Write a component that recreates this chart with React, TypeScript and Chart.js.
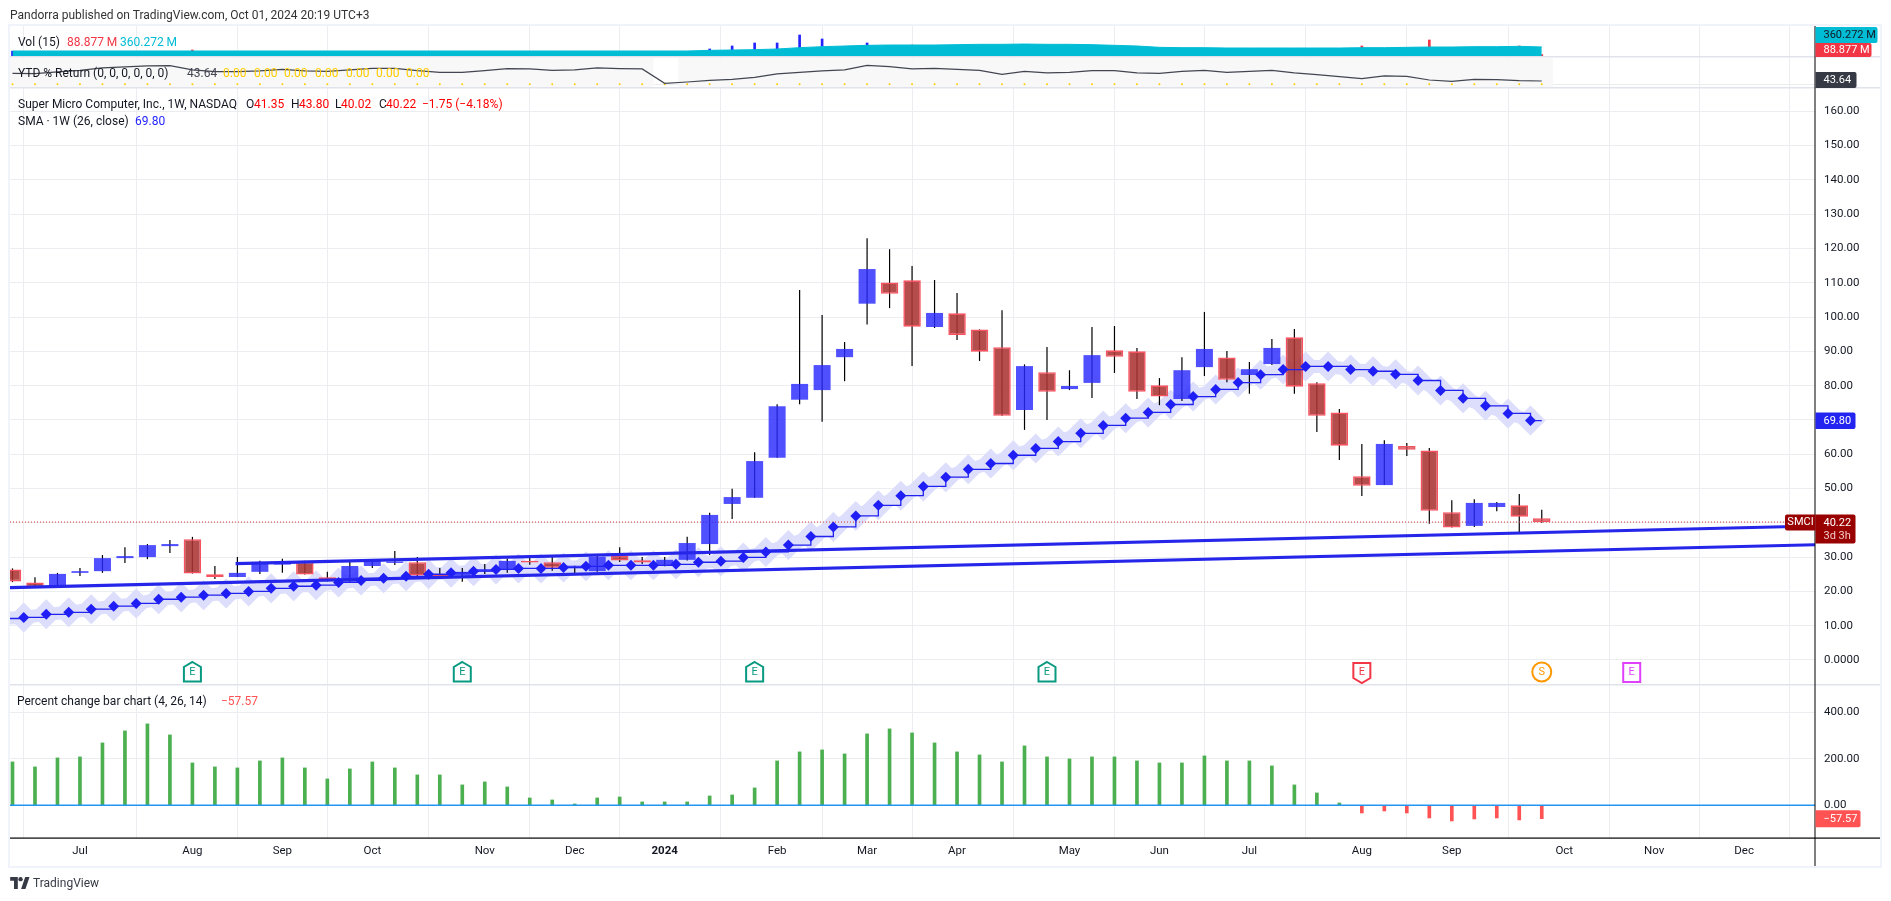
import React, { useEffect, useRef } from "react";
import { Chart, registerables } from "chart.js";

Chart.register(...registerables);

// weekly bars, index 0 = week of 12 Jun 2023
const opens = [26.4,22.6,21.6,25.4,25.9,29.7,30.0,33.2,35.2,25.0,24.2,25.7,27.8,28.6,24.1,22.8,27.4,28.3,28.5,24.8,24.6,25.8,26.5,28.9,28.5,26.7,25.9,30.4,29.1,27.5,29.2,33.8,45.5,47.3,59.0,75.9,78.7,88.3,103.9,110.1,110.7,97.1,101.1,96.4,91.2,72.9,83.9,79.0,80.8,90.3,90.0,80.1,76.1,85.4,88.2,83.1,86.3,94.1,80.7,72.2,53.6,51.0,62.4,61.1,43.1,39.1,44.6,45.1,41.35];
const highs = [26.7,24.1,25.4,26.8,30.6,32.9,33.8,35.0,35.9,27.4,30.0,28.9,29.5,28.9,25.7,28.6,29.4,31.8,30.0,26.8,26.8,28.0,29.6,30.6,30.6,27.5,30.6,32.9,30.0,30.0,35.9,42.9,49.9,60.6,74.6,107.9,100.6,92.7,123.0,119.8,114.9,110.8,107.0,96.4,102.0,86.2,91.3,84.5,97.1,97.4,91.0,82.2,88.3,101.5,90.1,86.9,93.6,96.5,81.0,73.2,63.0,64.1,63.3,61.8,46.6,46.9,46.1,48.4,43.8];
const lows = [22.7,21.0,21.2,24.5,25.4,28.3,29.4,31.2,25.2,23.6,24.2,25.1,25.4,24.9,22.9,22.8,26.8,27.7,24.3,23.6,22.8,25.1,25.4,27.8,26.0,25.2,25.7,28.6,28.0,27.3,29.0,30.6,41.1,47.3,59.0,74.6,69.5,81.3,97.8,102.6,85.7,96.8,93.3,87.2,71.2,67.1,70.0,78.7,76.4,83.7,76.1,74.3,75.5,82.8,81.0,77.6,86.0,77.6,66.5,58.3,47.8,51.0,59.5,39.7,38.6,38.8,43.4,37.3,40.02];
const closes = [22.9,21.2,25.1,25.9,29.7,30.3,33.5,33.8,25.2,24.2,25.4,28.6,28.6,24.9,23.2,27.4,29.2,28.7,24.6,24.2,25.7,26.5,28.9,28.4,26.9,27.5,30.1,29.0,28.4,29.2,34.1,42.3,47.5,58.0,74.0,80.5,86.0,90.7,114.0,106.8,97.2,101.2,94.8,89.9,71.2,85.7,78.2,79.9,88.9,88.4,78.2,76.8,84.5,90.7,81.7,84.8,91.0,79.7,71.2,62.5,50.8,63.0,61.3,43.5,38.6,45.8,45.8,41.8,40.22];
const smaValues = [12.1,12.4,13.3,13.9,14.8,15.7,16.5,17.7,18.3,18.9,19.4,20.0,20.9,21.5,21.8,22.6,23.2,23.8,24.4,25.0,25.4,25.9,26.4,26.7,26.7,27.0,27.3,27.6,27.6,27.6,27.9,28.5,28.8,29.9,31.5,33.5,36.0,38.8,42.0,45.1,47.9,50.6,53.3,55.6,57.3,59.7,61.7,63.7,66.1,68.4,70.5,72.2,74.5,76.8,78.9,80.9,83.2,84.7,85.6,85.6,84.7,84.2,83.3,81.5,78.6,76.3,74.1,71.9,69.8];
const volumes = [210,180,190,170,195,160,175,150,252,190,150,140,170,155,165,150,140,135,180,145,175,160,165,150,140,130,155,160,145,150,200,288,396,504,504,792,648,380,504,420,430,360,300,280,310,290,240,210,300,220,180,150,260,240,200,170,190,220,240,200,396,310,190,612,280,230,160,396,88.877];
const volumeMa = [216,216,216,216,216,216,216,216,216,216,216,216,216,216,216,216,216,216,216,216,216,216,216,216,216,216,216,216,216,216,216,240,252,264,288,336,372,396,420,432,432,432,444,456,456,468,456,456,444,420,396,348,336,336,324,324,324,324,324,324,336,336,348,360,360,372,372,384,360.272];
const ytdValues = [144,139.6,161.5,183.3,213.8,227,240,244.4,187.7,165.8,165.8,174.6,196.4,174.6,170.2,187.7,209.5,209.5,178.9,157.1,157.1,178.9,205.1,200.7,183.3,187.7,213.8,205.1,200.7,13.1,30.5,52.4,65.5,91.6,135.3,157.1,174.6,187.7,248.7,231.3,200.7,209.5,196.4,183.3,130.9,170.2,148.4,157.1,178.9,178.9,148.4,144,170.2,183.3,157.1,170.2,183.3,148.4,126.6,100.4,74.2,109.1,104.7,56.7,39.3,65.5,61.1,48,43.64];
const pctValues = [186.4,164.9,203.6,207.9,268,319.7,349.8,302.5,182,164.9,160.6,190.7,203.6,160.6,113.3,156.3,186.4,160.6,130.5,130.5,87.5,100.4,78.9,31.5,22.9,5.7,31.5,35.8,14.3,14.3,14.3,40.1,44.4,74.6,190.7,229.4,238,220.8,306.8,328.3,311,268,229.4,216.5,186.4,255.2,207.9,199.3,207.9,207.9,190.7,182,182,212.2,190.7,190.7,169.2,87.5,53,10,-33,-24.4,-33,-54.5,-67.4,-58.8,-54.5,-63,-57.57];

const monthIndex = [3,8,12,16,21,25,29,34,38,42,47,51,55,60,64,69,73,77];
const monthLabels = ["Jul","Aug","Sep","Oct","Nov","Dec","2024","Feb","Mar","Apr","May","Jun","Jul","Aug","Sep","Oct","Nov","Dec"];
const mainTicks = [0,10,20,30,40,50,60,70,80,90,100,110,120,130,140,150,160];
const pctTicks = [0,200,400];

const trendUpper = [[9.92,28.08],[80.15,39.07]];
const trendLower = [[-0.111,21.08],[80.15,33.6]];
const lastPrice = 40.22;
const smaLast = 69.8;

const markerIndex = [8,20,33,46,60,68,72];
const markerKinds = ["up","up","up","up","down","split","future"];
const ytdBands = [[-0.2,28.5],[29.6,68.5]];

const X_MIN = -0.111;
const X_MAX = 80.15;
const FONT = "Roboto, sans-serif";
const INK = "#131722";
const GRID = "#ecedf1";
const HALO = "#dcdefb";

const pts = (a: number[], shift = 0) => a.map((y, i) => ({ x: i + shift, y }));
const isUp = (i: number) => closes[i] >= opens[i];

const wickData = highs.map((h, i) => ({ x: i, y: [lows[i], h] }));
const upData = opens.map((o, i) => (isUp(i) ? { x: i, y: [o, closes[i]] } : null)).filter(Boolean);
const downData = opens.map((o, i) => (!isUp(i) ? { x: i, y: [o, closes[i]] } : null)).filter(Boolean);
const volUp = volumes.map((v, i) => (i === 0 || closes[i] >= closes[i - 1] ? { x: i, y: v } : null)).filter(Boolean);
const volDown = volumes.map((v, i) => (i > 0 && closes[i] < closes[i - 1] ? { x: i, y: v } : null)).filter(Boolean);
const pctUp = pctValues.map((v, i) => (v >= 0 ? { x: i, y: v } : null)).filter(Boolean);
const pctDown = pctValues.map((v, i) => (v < 0 ? { x: i, y: v } : null)).filter(Boolean);

const line = (extra: any) => ({ type: "line", pointRadius: 0, fill: false, tension: 0, ...extra });
const tagFont = `11px ${FONT}`;

function tag(ctx: any, x0: number, x1: number, y0: number, y1: number, bg: string) {
  ctx.fillStyle = bg;
  ctx.beginPath();
  ctx.roundRect(x0, y0, x1 - x0, y1 - y0, [0, 2, 2, 0]);
  ctx.fill();
}
function txt(ctx: any, s: string, x: number, y: number, color: string, font = tagFont, align = "left") {
  ctx.font = font;
  ctx.fillStyle = color;
  ctx.textAlign = align;
  ctx.textBaseline = "middle";
  ctx.fillText(s, x, y);
}

const panePlugin = {
  id: "panes",
  beforeDatasetsDraw(chart: any) {
    const { ctx, scales } = chart;
    ctx.save();
    ctx.fillStyle = "#f8f8f8";
    const t = scales.yYtd;
    ytdBands.forEach(([a, b]) => {
      const x0 = Math.max(scales.x.getPixelForValue(a), chart.chartArea.left);
      ctx.fillRect(x0, t.top + 1, scales.x.getPixelForValue(b) - x0, t.height - 2);
    });
    ctx.restore();
  },
  afterDatasetsDraw(chart: any) {
    const { ctx, scales } = chart;
    const y = scales.yMain.bottom - 13;
    ctx.save();
    markerIndex.forEach((idx, k) => {
      const cx = scales.x.getPixelForValue(idx);
      const kind = markerKinds[k];
      const color = kind === "up" ? "#089981" : kind === "down" ? "#f23645" : kind === "split" ? "#ff9800" : "#e040fb";
      ctx.lineWidth = 2;
      ctx.strokeStyle = color;
      ctx.fillStyle = "#ffffff";
      ctx.beginPath();
      if (kind === "split") {
        ctx.arc(cx, y, 9.5, 0, Math.PI * 2);
      } else if (kind === "up") {
        ctx.moveTo(cx, y - 10);
        ctx.lineTo(cx + 8.5, y - 5);
        ctx.lineTo(cx + 8.5, y + 9.5);
        ctx.lineTo(cx - 8.5, y + 9.5);
        ctx.lineTo(cx - 8.5, y - 5);
        ctx.closePath();
      } else if (kind === "down") {
        ctx.moveTo(cx - 8.5, y - 9);
        ctx.lineTo(cx + 8.5, y - 9);
        ctx.lineTo(cx + 8.5, y + 6);
        ctx.lineTo(cx, y + 11);
        ctx.lineTo(cx - 8.5, y + 6);
        ctx.closePath();
      } else {
        ctx.rect(cx - 8.5, y - 9, 17, 19);
      }
      ctx.fill();
      ctx.stroke();
      txt(ctx, kind === "split" ? "S" : "E", cx, y + 0.5, color, `11px ${FONT}`, "center");
    });
    ctx.restore();
  },
  afterDraw(chart: any) {
    const { ctx, scales, chartArea } = chart;
    const right = chart.width - 11;
    const bottom = scales.x.bottom;
    ctx.save();
    // frame + separators
    ctx.fillStyle = "#f0f3fa";
    ctx.fillRect(chartArea.left - 2, chartArea.top - 1, 2, bottom - chartArea.top + 3);
    ctx.fillRect(chartArea.left - 2, chartArea.top - 2, right - chartArea.left + 4, 2);
    ctx.fillRect(chartArea.left - 2, bottom, right - chartArea.left + 4, 2);
    ctx.fillRect(right, chartArea.top - 2, 2, bottom - chartArea.top + 4);
    ctx.fillStyle = "#e0e3eb";
    [scales.yVol.bottom, scales.yYtd.bottom, scales.yMain.bottom].forEach((v: number) => ctx.fillRect(chartArea.left, v - 1, right - chartArea.left, 1.5));
    ctx.fillStyle = "#000000";
    ctx.fillRect(chartArea.right - 0.5, chartArea.top, 1, bottom - chartArea.top);
    ctx.fillRect(chartArea.left, chartArea.bottom - 0.5, right - chartArea.left, 1.2);

    const L = chartArea.right + 0.5;
    const ink = "#ffffff";
    // volume tags
    tag(ctx, L, L + 62, scales.yVol.top + 1, scales.yVol.top + 17, "#00bcd4");
    txt(ctx, "360.272 M", L + 8, scales.yVol.top + 9.5, INK);
    tag(ctx, L, L + 56, scales.yVol.top + 17, scales.yVol.bottom, "#f23645");
    txt(ctx, "88.877 M", L + 8, scales.yVol.top + 24.5, ink);
    // ytd tag
    tag(ctx, L, L + 41, scales.yYtd.bottom - 16, scales.yYtd.bottom, "#363a45");
    txt(ctx, "43.64", L + 8, scales.yYtd.bottom - 7.5, ink);
    // SMA tag
    const sy = scales.yMain.getPixelForValue(smaLast);
    tag(ctx, L, L + 40, sy - 8, sy + 8.5, "#2424f0");
    txt(ctx, smaLast.toFixed(2), L + 8, sy + 0.5, ink);
    // price tag
    const py = scales.yMain.getPixelForValue(lastPrice);
    ctx.fillStyle = "#990000";
    ctx.beginPath();
    ctx.roundRect(L - 30.5, py - 7.5, 30.5, 16, [2, 0, 0, 2]);
    ctx.fill();
    txt(ctx, "SMCI", L - 15, py + 0.5, ink, tagFont, "center");
    tag(ctx, L, L + 40, py - 7.5, py + 21.5, "#990000");
    txt(ctx, lastPrice.toFixed(2), L + 8, py + 1, ink);
    txt(ctx, "3d 3h", L + 8, py + 14, "#f3c9c9");
    // pct tag
    const cy = scales.yPct.getPixelForValue(pctValues[pctValues.length - 1]);
    tag(ctx, L, L + 45, cy - 8.5, cy + 8.5, "#ff5252");
    txt(ctx, "\u221257.57", L + 8, cy + 0.5, ink);
    ctx.restore();
  },
};

const rightScale = (weight: number, min: number, max: number, values: number[], fmt?: (v: number) => string, showGrid = true) => ({
  type: "linear",
  position: "right",
  stack: "panes",
  stackWeight: weight,
  min,
  max,
  afterFit: (s: any) => { s.width = 65; },
  afterBuildTicks: (s: any) => { s.ticks = values.map((value) => ({ value })); },
  grid: { color: GRID, lineWidth: 1, drawTicks: false, display: showGrid },
  border: { display: false },
  ticks: { display: !!fmt, padding: 9, color: INK, font: { family: "Roboto", size: 11.5 }, autoSkip: false, callback: (v: number) => (fmt ? fmt(v) : "") },
});

function Txt({ x, y, c, children, w }: any) {
  return (
    <span style={{ position: "absolute", left: x, top: y, transform: "translateY(-50%)", color: c || INK, whiteSpace: "pre", fontWeight: w || 400, lineHeight: 1 }}>{children}</span>
  );
}

export default function App() {
  const ref = useRef<HTMLCanvasElement | null>(null);
  useEffect(() => {
    const chart = new Chart(ref.current as any, {
      type: "bar",
      data: {
        datasets: [
          // volume pane
          { type: "bar", yAxisID: "yVol", data: volUp, backgroundColor: "#2424ff", maxBarThickness: 2, order: 30 },
          { type: "bar", yAxisID: "yVol", data: volDown, backgroundColor: "#f23645", maxBarThickness: 2, order: 30 },
          line({ yAxisID: "yVol", data: pts(volumeMa), borderColor: "#00bcd4", borderWidth: 1, backgroundColor: "#00bcd4", fill: { value: 36 }, order: 20 }),
          // ytd pane
          line({ yAxisID: "yYtd", data: pts(ytdValues), borderColor: "#434651", borderWidth: 1.2, order: 20 }),
          line({ yAxisID: "yYtd", data: pts(ytdValues.map(() => 0)), showLine: false, pointRadius: 1, pointBackgroundColor: "#ffcc00", pointBorderWidth: 0, order: 21 }),
          // main pane: halo behind the candles
          line({ yAxisID: "yMain", data: pts(smaValues, -0.5), borderColor: HALO, borderWidth: 13, pointRadius: 15, pointStyle: "rectRot", pointBackgroundColor: HALO, pointBorderColor: HALO, pointBorderWidth: 0, order: 60 }),
          { type: "bar", yAxisID: "yMain", data: wickData, backgroundColor: "#000000", maxBarThickness: 1.2, inflateAmount: 0, order: 50 },
          { type: "bar", yAxisID: "yMain", data: upData, backgroundColor: "rgba(41,41,255,0.82)", maxBarThickness: 17, inflateAmount: 0, order: 40 },
          { type: "bar", yAxisID: "yMain", data: downData, backgroundColor: "rgba(172,52,52,0.88)", borderColor: "#f7525f", borderWidth: 1.6, borderSkipped: false, maxBarThickness: 17.5, inflateAmount: 0, order: 40 },
          line({ yAxisID: "yMain", data: [{ x: X_MIN, y: lastPrice }, { x: X_MAX, y: lastPrice }], borderColor: "#d9342b", borderWidth: 1, borderDash: [1, 2], order: 45 }),
          line({ yAxisID: "yMain", data: trendUpper.map(([x, y]) => ({ x, y })), borderColor: "#2626ea", borderWidth: 3.2, order: 10 }),
          line({ yAxisID: "yMain", data: trendLower.map(([x, y]) => ({ x, y })), borderColor: "#2626ea", borderWidth: 3.2, order: 10 }),
          line({ yAxisID: "yMain", data: [...pts(smaValues, -0.5), { x: 68, y: smaLast }], borderColor: "#2121f0", borderWidth: 1.3, stepped: true, order: 5 }),
          line({ yAxisID: "yMain", data: pts(smaValues, -0.5), showLine: false, pointRadius: 5.5, pointStyle: "rectRot", pointBackgroundColor: "#1f1ff5", pointBorderWidth: 0, order: 4 }),
          // percent pane
          { type: "bar", yAxisID: "yPct", data: pctUp, backgroundColor: "#4caf50", maxBarThickness: 3, order: 30 },
          { type: "bar", yAxisID: "yPct", data: pctDown, backgroundColor: "#ff5252", maxBarThickness: 3, order: 30 },
          line({ yAxisID: "yPct", data: [{ x: X_MIN, y: 0 }, { x: X_MAX, y: 0 }], borderColor: "#2196f3", borderWidth: 1.5, order: 20 }),
        ] as any,
      },
      options: {
        animation: false,
        responsive: false,
        events: [],
        layout: { autoPadding: false, padding: { left: 10, top: 26, right: 11, bottom: 35 } },
        datasets: { bar: { grouped: false, barPercentage: 1, categoryPercentage: 1 } },
        plugins: { legend: { display: false }, tooltip: { enabled: false } },
        scales: {
          x: {
            type: "linear",
            min: X_MIN,
            max: X_MAX,
            offset: false,
            afterFit: (s: any) => { s.height = 28; },
            afterBuildTicks: (s: any) => { s.ticks = monthIndex.map((value) => ({ value })); },
            grid: { color: GRID, lineWidth: 1, drawTicks: false },
            border: { display: false },
            ticks: {
              autoSkip: false,
              maxRotation: 0,
              minRotation: 0,
              padding: 6,
              color: INK,
              font: (c: any) => ({ family: "Roboto", size: 11.5, weight: c.tick && c.tick.value === 29 ? "bold" : "normal" }),
              callback: (v: number) => monthLabels[monthIndex.indexOf(v)] || "",
            },
          },
          yVol: rightScale(31, 0, 1116, [], undefined, false),
          yYtd: rightScale(31, -48, 357, [0]),
          yMain: rightScale(597, -7.3, 166.8, mainTicks, (v) => (v === 0 ? "0.0000" : v.toFixed(2))),
          yPct: rightScale(153, -140.6, 517, pctTicks, (v) => v.toFixed(2)),
        } as any,
      } as any,
      plugins: [panePlugin] as any,
    });
    return () => chart.destroy();
  }, []);

  const red = "#f23645";
  const candle = "#ff0000";
  return (
    <div style={{ position: "absolute", left: 0, top: 0, width: 1891, height: 901, background: "#ffffff", overflow: "hidden", fontFamily: FONT, fontSize: 12 }}>
      <canvas ref={ref} width={1891} height={901} style={{ position: "absolute", left: 0, top: 0, width: 1891, height: 901 }} />
      <Txt x={10} y={15} c="#333">Pandorra published on TradingView.com, Oct 01, 2024 20:19 UTC+3</Txt>
      <Txt x={18} y={42}>Vol (15)</Txt>
      <Txt x={67} y={42} c={red}>88.877 M</Txt>
      <Txt x={120} y={42} c="#00bcd4">360.272 M</Txt>
      <Txt x={18} y={73}>YTD % Return (0, 0, 0, 0, 0, 0)</Txt>
      <Txt x={187} y={73} c="#434651">43.64</Txt>
      {[223, 254, 284, 315, 346, 376, 406].map((x) => (
        <Txt key={x} x={x} y={73} c="#ffcc00">0.00</Txt>
      ))}
      <Txt x={18} y={104}>Super Micro Computer, Inc., 1W, NASDAQ</Txt>
      <Txt x={246} y={104}>O</Txt><Txt x={254} y={104} c={candle}>41.35</Txt>
      <Txt x={291} y={104}>H</Txt><Txt x={299} y={104} c={candle}>43.80</Txt>
      <Txt x={335} y={104}>L</Txt><Txt x={341} y={104} c={candle}>40.02</Txt>
      <Txt x={379} y={104}>C</Txt><Txt x={386} y={104} c={candle}>40.22</Txt>
      <Txt x={422} y={104} c={candle}>{"\u22121.75 (\u22124.18%)"}</Txt>
      <Txt x={18} y={121}>{"SMA \u00b7 1W (26, close)"}</Txt>
      <Txt x={135} y={121} c="#2424ff">69.80</Txt>
      <Txt x={17} y={701}>Percent change bar chart (4, 26, 14)</Txt>
      <Txt x={221} y={701} c="#ff5252">{"\u221257.57"}</Txt>
      <svg style={{ position: "absolute", left: 10, top: 877 }} width="20" height="12" viewBox="0 0 36 22">
        <path d="M14 22H7V7H0V0h14v22zM28 22h-8l7.5-22h8L28 22z" fill="#363a45" />
        <circle cx="19" cy="4" r="4" fill="#363a45" />
      </svg>
      <Txt x={33} y={883} c="#363a45">TradingView</Txt>
    </div>
  );
}
